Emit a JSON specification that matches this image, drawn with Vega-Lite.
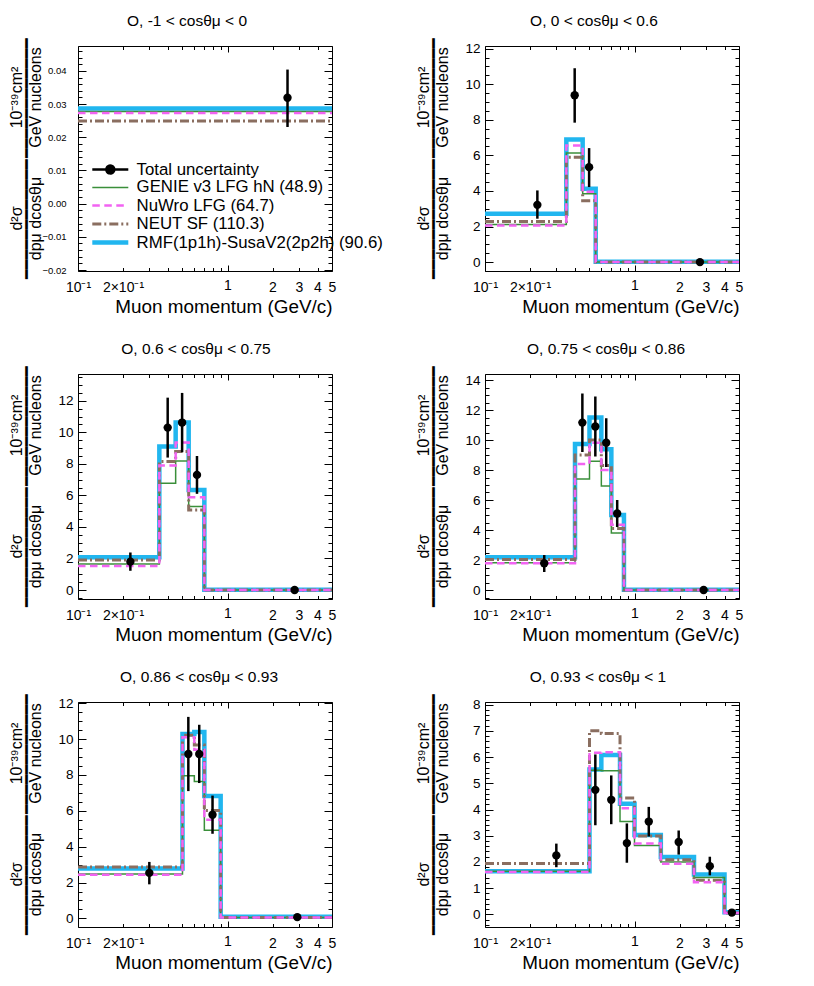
{
  "$schema": "https://vega.github.io/schema/vega-lite/v6.json",
  "padding": {"left": 8, "top": 12, "right": 0, "bottom": 0},
  "background": "white",
  "datasets": {
    "hist": [
      {"c":1,"m":"R","p":0.1,"v":0.0287},{"c":1,"m":"R","p":30,"v":0.0287},
      {"c":1,"m":"G","p":0.1,"v":0.0278},{"c":1,"m":"G","p":30,"v":0.0278},
      {"c":1,"m":"N","p":0.1,"v":0.0249},{"c":1,"m":"N","p":30,"v":0.0249},
      {"c":1,"m":"W","p":0.1,"v":0.0273},{"c":1,"m":"W","p":30,"v":0.0273},

      {"c":2,"m":"R","p":0.1,"v":2.72},{"c":2,"m":"R","p":0.35,"v":6.9},{"c":2,"m":"R","p":0.45,"v":4.12},{"c":2,"m":"R","p":0.55,"v":0.02},{"c":2,"m":"R","p":30,"v":0.02},
      {"c":2,"m":"G","p":0.1,"v":2.12},{"c":2,"m":"G","p":0.35,"v":6.13},{"c":2,"m":"G","p":0.45,"v":3.84},{"c":2,"m":"G","p":0.55,"v":0},{"c":2,"m":"G","p":30,"v":0},
      {"c":2,"m":"N","p":0.1,"v":2.29},{"c":2,"m":"N","p":0.35,"v":5.9},{"c":2,"m":"N","p":0.45,"v":3.45},{"c":2,"m":"N","p":0.55,"v":0},{"c":2,"m":"N","p":30,"v":0},
      {"c":2,"m":"W","p":0.1,"v":2.06},{"c":2,"m":"W","p":0.35,"v":6.56},{"c":2,"m":"W","p":0.45,"v":3.95},{"c":2,"m":"W","p":0.55,"v":0},{"c":2,"m":"W","p":30,"v":0},

      {"c":3,"m":"R","p":0.1,"v":2.07},{"c":3,"m":"R","p":0.35,"v":9.1},{"c":3,"m":"R","p":0.45,"v":10.62},{"c":3,"m":"R","p":0.55,"v":6.35},{"c":3,"m":"R","p":0.7,"v":0.02},{"c":3,"m":"R","p":30,"v":0.02},
      {"c":3,"m":"G","p":0.1,"v":1.65},{"c":3,"m":"G","p":0.35,"v":6.77},{"c":3,"m":"G","p":0.45,"v":8.19},{"c":3,"m":"G","p":0.55,"v":5.29},{"c":3,"m":"G","p":0.7,"v":0},{"c":3,"m":"G","p":30,"v":0},
      {"c":3,"m":"N","p":0.1,"v":1.9},{"c":3,"m":"N","p":0.35,"v":8.15},{"c":3,"m":"N","p":0.45,"v":8.78},{"c":3,"m":"N","p":0.55,"v":5.08},{"c":3,"m":"N","p":0.7,"v":0},{"c":3,"m":"N","p":30,"v":0},
      {"c":3,"m":"W","p":0.1,"v":1.52},{"c":3,"m":"W","p":0.35,"v":7.9},{"c":3,"m":"W","p":0.45,"v":9.35},{"c":3,"m":"W","p":0.55,"v":5.88},{"c":3,"m":"W","p":0.7,"v":0},{"c":3,"m":"W","p":30,"v":0},

      {"c":4,"m":"R","p":0.1,"v":2.18},{"c":4,"m":"R","p":0.4,"v":9.73},{"c":4,"m":"R","p":0.5,"v":11.5},{"c":4,"m":"R","p":0.6,"v":9.38},{"c":4,"m":"R","p":0.7,"v":5.0},{"c":4,"m":"R","p":0.85,"v":0.02},{"c":4,"m":"R","p":30,"v":0.02},
      {"c":4,"m":"G","p":0.1,"v":1.82},{"c":4,"m":"G","p":0.4,"v":7.4},{"c":4,"m":"G","p":0.5,"v":8.58},{"c":4,"m":"G","p":0.6,"v":6.93},{"c":4,"m":"G","p":0.7,"v":3.8},{"c":4,"m":"G","p":0.85,"v":0},{"c":4,"m":"G","p":30,"v":0},
      {"c":4,"m":"N","p":0.1,"v":2.04},{"c":4,"m":"N","p":0.4,"v":9.0},{"c":4,"m":"N","p":0.5,"v":10.0},{"c":4,"m":"N","p":0.6,"v":8.3},{"c":4,"m":"N","p":0.7,"v":4.1},{"c":4,"m":"N","p":0.85,"v":0},{"c":4,"m":"N","p":30,"v":0},
      {"c":4,"m":"W","p":0.1,"v":1.78},{"c":4,"m":"W","p":0.4,"v":8.4},{"c":4,"m":"W","p":0.5,"v":9.82},{"c":4,"m":"W","p":0.6,"v":8.0},{"c":4,"m":"W","p":0.7,"v":4.35},{"c":4,"m":"W","p":0.85,"v":0},{"c":4,"m":"W","p":30,"v":0},

      {"c":5,"m":"R","p":0.1,"v":2.78},{"c":5,"m":"R","p":0.5,"v":10.28},{"c":5,"m":"R","p":0.6,"v":10.4},{"c":5,"m":"R","p":0.7,"v":6.83},{"c":5,"m":"R","p":0.9,"v":0.09},{"c":5,"m":"R","p":30,"v":0.09},
      {"c":5,"m":"G","p":0.1,"v":2.48},{"c":5,"m":"G","p":0.5,"v":7.96},{"c":5,"m":"G","p":0.6,"v":7.63},{"c":5,"m":"G","p":0.7,"v":4.91},{"c":5,"m":"G","p":0.9,"v":0.05},{"c":5,"m":"G","p":30,"v":0.05},
      {"c":5,"m":"N","p":0.1,"v":2.87},{"c":5,"m":"N","p":0.5,"v":10.22},{"c":5,"m":"N","p":0.6,"v":9.67},{"c":5,"m":"N","p":0.7,"v":6.02},{"c":5,"m":"N","p":0.9,"v":0.05},{"c":5,"m":"N","p":30,"v":0.05},
      {"c":5,"m":"W","p":0.1,"v":2.44},{"c":5,"m":"W","p":0.5,"v":10.1},{"c":5,"m":"W","p":0.6,"v":9.4},{"c":5,"m":"W","p":0.7,"v":5.5},{"c":5,"m":"W","p":0.9,"v":0.05},{"c":5,"m":"W","p":30,"v":0.05},

      {"c":6,"m":"R","p":0.1,"v":1.65},{"c":6,"m":"R","p":0.5,"v":5.53},{"c":6,"m":"R","p":0.6,"v":6.08},{"c":6,"m":"R","p":0.8,"v":4.22},{"c":6,"m":"R","p":1.0,"v":3.03},{"c":6,"m":"R","p":1.5,"v":2.19},{"c":6,"m":"R","p":2.5,"v":1.52},{"c":6,"m":"R","p":4.0,"v":0.08},{"c":6,"m":"R","p":30,"v":0.08},
      {"c":6,"m":"G","p":0.1,"v":1.65},{"c":6,"m":"G","p":0.5,"v":5.5},{"c":6,"m":"G","p":0.6,"v":5.48},{"c":6,"m":"G","p":0.8,"v":3.54},{"c":6,"m":"G","p":1.0,"v":2.63},{"c":6,"m":"G","p":1.5,"v":2.0},{"c":6,"m":"G","p":2.5,"v":1.41},{"c":6,"m":"G","p":4.0,"v":0.05},{"c":6,"m":"G","p":30,"v":0.05},
      {"c":6,"m":"N","p":0.1,"v":1.94},{"c":6,"m":"N","p":0.5,"v":7.0},{"c":6,"m":"N","p":0.6,"v":6.9},{"c":6,"m":"N","p":0.8,"v":4.44},{"c":6,"m":"N","p":1.0,"v":2.99},{"c":6,"m":"N","p":1.5,"v":2.08},{"c":6,"m":"N","p":2.5,"v":1.3},{"c":6,"m":"N","p":4.0,"v":0.05},{"c":6,"m":"N","p":30,"v":0.05},
      {"c":6,"m":"W","p":0.1,"v":1.62},{"c":6,"m":"W","p":0.5,"v":6.16},{"c":6,"m":"W","p":0.6,"v":6.18},{"c":6,"m":"W","p":0.8,"v":4.05},{"c":6,"m":"W","p":1.0,"v":2.7},{"c":6,"m":"W","p":1.5,"v":1.93},{"c":6,"m":"W","p":2.5,"v":1.23},{"c":6,"m":"W","p":4.0,"v":0.05},{"c":6,"m":"W","p":30,"v":0.05}
    ],
    "pts": [
      {"c":1,"p":2.52,"v":0.0319,"lo":0.0231,"hi":0.0404},
      {"c":2,"p":0.224,"v":3.22,"lo":2.44,"hi":4.03},
      {"c":2,"p":0.398,"v":9.38,"lo":7.84,"hi":10.9},
      {"c":2,"p":0.497,"v":5.34,"lo":4.22,"hi":6.41},
      {"c":2,"p":2.74,"v":0.0,"lo":0.0,"hi":0.0},
      {"c":3,"p":0.224,"v":1.8,"lo":1.22,"hi":2.38},
      {"c":3,"p":0.398,"v":10.3,"lo":8.4,"hi":12.2},
      {"c":3,"p":0.497,"v":10.62,"lo":8.74,"hi":12.5},
      {"c":3,"p":0.625,"v":7.3,"lo":6.1,"hi":8.5},
      {"c":3,"p":2.81,"v":0.0,"lo":0.0,"hi":0.0},
      {"c":4,"p":0.249,"v":1.78,"lo":1.2,"hi":2.33},
      {"c":4,"p":0.448,"v":11.16,"lo":9.2,"hi":13.1},
      {"c":4,"p":0.547,"v":10.9,"lo":8.9,"hi":12.9},
      {"c":4,"p":0.647,"v":9.82,"lo":8.2,"hi":11.45},
      {"c":4,"p":0.766,"v":5.1,"lo":4.2,"hi":6.0},
      {"c":4,"p":2.9,"v":0.0,"lo":0.0,"hi":0.0},
      {"c":5,"p":0.3,"v":2.54,"lo":1.9,"hi":3.15},
      {"c":5,"p":0.547,"v":9.17,"lo":7.1,"hi":11.24},
      {"c":5,"p":0.647,"v":9.17,"lo":7.55,"hi":10.8},
      {"c":5,"p":0.794,"v":5.78,"lo":4.72,"hi":6.85},
      {"c":5,"p":2.93,"v":0.07,"lo":0.03,"hi":0.1},
      {"c":6,"p":0.3,"v":2.25,"lo":1.8,"hi":2.7},
      {"c":6,"p":0.547,"v":4.75,"lo":3.4,"hi":6.1},
      {"c":6,"p":0.699,"v":4.37,"lo":3.44,"hi":5.3},
      {"c":6,"p":0.889,"v":2.72,"lo":1.97,"hi":3.47},
      {"c":6,"p":1.246,"v":3.54,"lo":2.97,"hi":4.1},
      {"c":6,"p":1.975,"v":2.76,"lo":2.28,"hi":3.2},
      {"c":6,"p":3.19,"v":1.84,"lo":1.49,"hi":2.2},
      {"c":6,"p":4.48,"v":0.07,"lo":0.03,"hi":0.1}
    ]
  },
  "columns": 2,
  "spacing": {"row": 103, "column": 153},
  "bounds": "flush",
  "concat": [
    {
      "width": 254, "height": 225,
      "title": {"text": "O, -1 < cosθμ < 0", "dx": -18},
      "layer": [
        {
          "data": {"name": "hist"},
          "transform": [{"filter": "datum.c == 1"}],
          "mark": {"type": "line", "interpolate": "step-after", "clip": true},
          "encoding": {
            "x": {"field": "p", "type": "quantitative", "scale": {"type": "log", "domain": [0.1, 5], "nice": false},
              "axis": {"values": [0.1,0.2,0.3,0.4,0.5,0.6,0.7,0.8,0.9,1,2,3,4,5], "labelExpr": "datum.value == 0.1 ? '10⁻¹' : datum.value == 0.2 ? '2×10⁻¹' : datum.value >= 1 ? format(datum.value, 'd') : ''", "tickSize": {"condition": {"test": "datum.value == 1", "value": -6}, "value": -3.5}, "labelFontSize": 14, "labelPadding": 13, "title": "Muon momentum (GeV/c)", "titleFontSize": 18.9, "titleAnchor": "end", "titlePadding": 3}},
            "y": {"field": "v", "type": "quantitative", "scale": {"domain": [-0.0203, 0.0475], "nice": false, "zero": false},
              "axis": {"values": [-0.02,-0.018,-0.016,-0.014,-0.012,-0.01,-0.008,-0.006,-0.004,-0.002,0,0.002,0.004,0.006,0.008,0.01,0.012,0.014,0.016,0.018,0.02,0.022,0.024,0.026,0.028,0.03,0.032,0.034,0.036,0.038,0.04,0.042,0.044,0.046],
                "labelExpr": "abs(round(datum.value*1000)) % 10 == 0 ? format(datum.value, '.2f') : ''",
                "tickSize": {"condition": {"test": "abs(round(datum.value*1000)) % 10 == 0", "value": -8}, "value": -4},
                "labelFontSize": 9.5, "labelPadding": 20,
                "title": ["\u00a0\u00a0\u00a0\u00a0\u00a0\u00a0\u00a0\u00a0\u00a0\u00a0\u00a0\u00a0\u00a0\u00a0\u00a0\u00a0\u00a0\u00a0\u00a0\u00a0d²σ", "━━━━━━━━━━━━", "dpμ dcosθμ"],
                "titleX": -61.5, "titleY": 172, "titleAngle": 270, "titleAlign": "center", "titleBaseline": "middle", "titleFontSize": 16, "titleLineHeight": 9.5}},
            "color": {"field": "m", "type": "nominal",
              "scale": {"domain": ["T","G","W","N","R"], "range": ["black","#3a8f3a","#f263f2","#8a6e60","#21b6ef"]},
              "legend": {"orient": "none", "legendX": 22.8, "legendY": 115, "direction": "vertical", "title": null, "padding": 0, "symbolType": "stroke", "symbolSize": 207.4, "labelFontSize": 16.8, "labelOffset": 16.8, "labelLimit": 400, "rowPadding": 0,
                "labelExpr": "datum.label == 'T' ? 'Total uncertainty' : datum.label == 'G' ? 'GENIE v3 LFG hN (48.9)' : datum.label == 'W' ? 'NuWro LFG (64.7)' : datum.label == 'N' ? 'NEUT SF (110.3)' : 'RMF(1p1h)-SusaV2(2p2h) (90.6)'",
                "encode": {"symbols": {"update": {
                  "shape": {"signal": "datum.value == 'T' ? 'M-2.5,0L2.5,0M-0.55,0A0.55,0.55,0,1,1,0.55,0A0.55,0.55,0,1,1,-0.55,0Z' : 'M-2.5,0L2.5,0'"},
                  "fill": {"signal": "datum.value == 'T' ? 'black' : 'transparent'"}}}}}},
            "strokeDash": {"field": "m", "type": "nominal", "scale": {"domain": ["T","G","W","N","R"], "range": [[1,0],[1,0],[7.5,4.5],[9,3,2,3],[1,0]]}},
            "strokeWidth": {"field": "m", "type": "nominal", "scale": {"type": "ordinal", "domain": ["T","G","W","N","R"], "range": [2.5,1.5,2.5,3,4.5]}}
          }
        },
        {
          "data": {"name": "pts"},
          "transform": [{"filter": "datum.c == 1"}],
          "mark": {"type": "rule", "strokeWidth": 2.5, "color": "black"},
          "encoding": {
            "x": {"field": "p", "type": "quantitative", "scale": {"type": "log", "domain": [0.1, 5], "nice": false}, "axis": null},
            "y": {"field": "lo", "type": "quantitative", "scale": {"domain": [-0.0203, 0.0475], "nice": false, "zero": false}, "axis": null},
            "y2": {"field": "hi"}
          }
        },
        {
          "data": {"name": "pts"},
          "transform": [{"filter": "datum.c == 1"}],
          "mark": {"type": "point", "filled": true, "size": 70, "color": "black", "opacity": 1},
          "encoding": {
            "x": {"field": "p", "type": "quantitative", "scale": {"type": "log", "domain": [0.1, 5], "nice": false},
              "axis": {"orient": "top", "values": [0.1,0.2,0.3,0.4,0.5,0.6,0.7,0.8,0.9,1,2,3,4,5], "labels": false, "title": null, "tickSize": {"condition": {"test": "datum.value == 1", "value": -6}, "value": -3.5}}},
            "y": {"field": "v", "type": "quantitative", "scale": {"domain": [-0.0203, 0.0475], "nice": false, "zero": false},
              "axis": {"orient": "right", "values": [-0.02,-0.018,-0.016,-0.014,-0.012,-0.01,-0.008,-0.006,-0.004,-0.002,0,0.002,0.004,0.006,0.008,0.01,0.012,0.014,0.016,0.018,0.02,0.022,0.024,0.026,0.028,0.03,0.032,0.034,0.036,0.038,0.04,0.042,0.044,0.046], "labels": false,
                "tickSize": {"condition": {"test": "abs(round(datum.value*1000)) % 10 == 0", "value": -8}, "value": -4},
                "title": ["\u00a0\u00a0\u00a0\u00a0\u00a0\u00a0\u00a0\u00a0\u00a0\u00a0\u00a0\u00a0\u00a0\u00a0\u00a010⁻³⁹cm²", "━━━━━━━━━━━━", "GeV nucleons"],
                "titleX": -315.5, "titleY": 51, "titleAngle": 270, "titleAlign": "center", "titleBaseline": "middle", "titleFontSize": 16, "titleLineHeight": 9.5}}
          }
        }
      ],
      "resolve": {"axis": {"x": "independent", "y": "independent"}}
    },
    {
      "width": 254, "height": 225,
      "title": {"text": "O, 0 < cosθμ < 0.6", "dx": -18},
      "layer": [
        {
          "data": {"name": "hist"},
          "transform": [{"filter": "datum.c == 2"}],
          "mark": {"type": "line", "interpolate": "step-after", "clip": true},
          "encoding": {
            "x": {"field": "p", "type": "quantitative", "scale": {"type": "log", "domain": [0.1, 5], "nice": false},
              "axis": {"values": [0.1,0.2,0.3,0.4,0.5,0.6,0.7,0.8,0.9,1,2,3,4,5], "labelExpr": "datum.value == 0.1 ? '10⁻¹' : datum.value == 0.2 ? '2×10⁻¹' : datum.value >= 1 ? format(datum.value, 'd') : ''", "tickSize": {"condition": {"test": "datum.value == 1", "value": -6}, "value": -3.5}, "labelFontSize": 14, "labelPadding": 13, "title": "Muon momentum (GeV/c)", "titleFontSize": 18.9, "titleAnchor": "end", "titlePadding": 3}},
            "y": {"field": "v", "type": "quantitative", "scale": {"domain": [-0.5, 12.15], "nice": false, "zero": false},
              "axis": {"values": [-0.5,0,0.5,1,1.5,2,2.5,3,3.5,4,4.5,5,5.5,6,6.5,7,7.5,8,8.5,9,9.5,10,10.5,11,11.5,12],
                "labelExpr": "datum.value % 2 == 0 ? format(datum.value, 'd') : ''",
                "tickSize": {"condition": {"test": "datum.value % 2 == 0", "value": -8}, "value": -4},
                "labelFontSize": 13.5, "labelPadding": 13,
                "title": ["\u00a0\u00a0\u00a0\u00a0\u00a0\u00a0\u00a0\u00a0\u00a0\u00a0\u00a0\u00a0\u00a0\u00a0\u00a0\u00a0\u00a0\u00a0\u00a0\u00a0d²σ", "━━━━━━━━━━━━", "dpμ dcosθμ"],
                "titleX": -61.5, "titleY": 172, "titleAngle": 270, "titleAlign": "center", "titleBaseline": "middle", "titleFontSize": 16, "titleLineHeight": 9.5}},
            "color": {"field": "m", "type": "nominal", "scale": {"domain": ["T","G","W","N","R"], "range": ["black","#3a8f3a","#f263f2","#8a6e60","#21b6ef"]}, "legend": null},
            "strokeDash": {"field": "m", "type": "nominal", "scale": {"domain": ["T","G","W","N","R"], "range": [[1,0],[1,0],[7.5,4.5],[9,3,2,3],[1,0]]}, "legend": null},
            "strokeWidth": {"field": "m", "type": "nominal", "scale": {"type": "ordinal", "domain": ["T","G","W","N","R"], "range": [2.5,1.5,2.5,3,4.5]}, "legend": null}
          }
        },
        {
          "data": {"name": "pts"},
          "transform": [{"filter": "datum.c == 2"}],
          "mark": {"type": "rule", "strokeWidth": 2.5, "color": "black"},
          "encoding": {
            "x": {"field": "p", "type": "quantitative", "scale": {"type": "log", "domain": [0.1, 5], "nice": false}, "axis": null},
            "y": {"field": "lo", "type": "quantitative", "scale": {"domain": [-0.5, 12.15], "nice": false, "zero": false}, "axis": null},
            "y2": {"field": "hi"}
          }
        },
        {
          "data": {"name": "pts"},
          "transform": [{"filter": "datum.c == 2"}],
          "mark": {"type": "point", "filled": true, "size": 70, "color": "black", "opacity": 1},
          "encoding": {
            "x": {"field": "p", "type": "quantitative", "scale": {"type": "log", "domain": [0.1, 5], "nice": false},
              "axis": {"orient": "top", "values": [0.1,0.2,0.3,0.4,0.5,0.6,0.7,0.8,0.9,1,2,3,4,5], "labels": false, "title": null, "tickSize": {"condition": {"test": "datum.value == 1", "value": -6}, "value": -3.5}}},
            "y": {"field": "v", "type": "quantitative", "scale": {"domain": [-0.5, 12.15], "nice": false, "zero": false},
              "axis": {"orient": "right", "values": [-0.5,0,0.5,1,1.5,2,2.5,3,3.5,4,4.5,5,5.5,6,6.5,7,7.5,8,8.5,9,9.5,10,10.5,11,11.5,12], "labels": false,
                "tickSize": {"condition": {"test": "datum.value % 2 == 0", "value": -8}, "value": -4},
                "title": ["\u00a0\u00a0\u00a0\u00a0\u00a0\u00a0\u00a0\u00a0\u00a0\u00a0\u00a0\u00a0\u00a0\u00a0\u00a010⁻³⁹cm²", "━━━━━━━━━━━━", "GeV nucleons"],
                "titleX": -315.5, "titleY": 51, "titleAngle": 270, "titleAlign": "center", "titleBaseline": "middle", "titleFontSize": 16, "titleLineHeight": 9.5}}
          }
        }
      ],
      "resolve": {"axis": {"x": "independent", "y": "independent"}}
    },
    {
      "width": 254, "height": 225,
      "title": {"text": "O, 0.6 < cosθμ < 0.75", "dx": -9},
      "layer": [
        {
          "data": {"name": "hist"},
          "transform": [{"filter": "datum.c == 3"}],
          "mark": {"type": "line", "interpolate": "step-after", "clip": true},
          "encoding": {
            "x": {"field": "p", "type": "quantitative", "scale": {"type": "log", "domain": [0.1, 5], "nice": false},
              "axis": {"values": [0.1,0.2,0.3,0.4,0.5,0.6,0.7,0.8,0.9,1,2,3,4,5], "labelExpr": "datum.value == 0.1 ? '10⁻¹' : datum.value == 0.2 ? '2×10⁻¹' : datum.value >= 1 ? format(datum.value, 'd') : ''", "tickSize": {"condition": {"test": "datum.value == 1", "value": -6}, "value": -3.5}, "labelFontSize": 14, "labelPadding": 13, "title": "Muon momentum (GeV/c)", "titleFontSize": 18.9, "titleAnchor": "end", "titlePadding": 3}},
            "y": {"field": "v", "type": "quantitative", "scale": {"domain": [-0.57, 13.7], "nice": false, "zero": false},
              "axis": {"values": [-0.5,0,0.5,1,1.5,2,2.5,3,3.5,4,4.5,5,5.5,6,6.5,7,7.5,8,8.5,9,9.5,10,10.5,11,11.5,12,12.5,13,13.5],
                "labelExpr": "datum.value % 2 == 0 ? format(datum.value, 'd') : ''",
                "tickSize": {"condition": {"test": "datum.value % 2 == 0", "value": -8}, "value": -4},
                "labelFontSize": 13.5, "labelPadding": 13,
                "title": ["\u00a0\u00a0\u00a0\u00a0\u00a0\u00a0\u00a0\u00a0\u00a0\u00a0\u00a0\u00a0\u00a0\u00a0\u00a0\u00a0\u00a0\u00a0\u00a0\u00a0d²σ", "━━━━━━━━━━━━", "dpμ dcosθμ"],
                "titleX": -61.5, "titleY": 172, "titleAngle": 270, "titleAlign": "center", "titleBaseline": "middle", "titleFontSize": 16, "titleLineHeight": 9.5}},
            "color": {"field": "m", "type": "nominal", "scale": {"domain": ["T","G","W","N","R"], "range": ["black","#3a8f3a","#f263f2","#8a6e60","#21b6ef"]}, "legend": null},
            "strokeDash": {"field": "m", "type": "nominal", "scale": {"domain": ["T","G","W","N","R"], "range": [[1,0],[1,0],[7.5,4.5],[9,3,2,3],[1,0]]}, "legend": null},
            "strokeWidth": {"field": "m", "type": "nominal", "scale": {"type": "ordinal", "domain": ["T","G","W","N","R"], "range": [2.5,1.5,2.5,3,4.5]}, "legend": null}
          }
        },
        {
          "data": {"name": "pts"},
          "transform": [{"filter": "datum.c == 3"}],
          "mark": {"type": "rule", "strokeWidth": 2.5, "color": "black"},
          "encoding": {
            "x": {"field": "p", "type": "quantitative", "scale": {"type": "log", "domain": [0.1, 5], "nice": false}, "axis": null},
            "y": {"field": "lo", "type": "quantitative", "scale": {"domain": [-0.57, 13.7], "nice": false, "zero": false}, "axis": null},
            "y2": {"field": "hi"}
          }
        },
        {
          "data": {"name": "pts"},
          "transform": [{"filter": "datum.c == 3"}],
          "mark": {"type": "point", "filled": true, "size": 70, "color": "black", "opacity": 1},
          "encoding": {
            "x": {"field": "p", "type": "quantitative", "scale": {"type": "log", "domain": [0.1, 5], "nice": false},
              "axis": {"orient": "top", "values": [0.1,0.2,0.3,0.4,0.5,0.6,0.7,0.8,0.9,1,2,3,4,5], "labels": false, "title": null, "tickSize": {"condition": {"test": "datum.value == 1", "value": -6}, "value": -3.5}}},
            "y": {"field": "v", "type": "quantitative", "scale": {"domain": [-0.57, 13.7], "nice": false, "zero": false},
              "axis": {"orient": "right", "values": [-0.5,0,0.5,1,1.5,2,2.5,3,3.5,4,4.5,5,5.5,6,6.5,7,7.5,8,8.5,9,9.5,10,10.5,11,11.5,12,12.5,13,13.5], "labels": false,
                "tickSize": {"condition": {"test": "datum.value % 2 == 0", "value": -8}, "value": -4},
                "title": ["\u00a0\u00a0\u00a0\u00a0\u00a0\u00a0\u00a0\u00a0\u00a0\u00a0\u00a0\u00a0\u00a0\u00a0\u00a010⁻³⁹cm²", "━━━━━━━━━━━━", "GeV nucleons"],
                "titleX": -315.5, "titleY": 51, "titleAngle": 270, "titleAlign": "center", "titleBaseline": "middle", "titleFontSize": 16, "titleLineHeight": 9.5}}
          }
        }
      ],
      "resolve": {"axis": {"x": "independent", "y": "independent"}}
    },
    {
      "width": 254, "height": 225,
      "title": {"text": "O, 0.75 < cosθμ < 0.86", "dx": -6},
      "layer": [
        {
          "data": {"name": "hist"},
          "transform": [{"filter": "datum.c == 4"}],
          "mark": {"type": "line", "interpolate": "step-after", "clip": true},
          "encoding": {
            "x": {"field": "p", "type": "quantitative", "scale": {"type": "log", "domain": [0.1, 5], "nice": false},
              "axis": {"values": [0.1,0.2,0.3,0.4,0.5,0.6,0.7,0.8,0.9,1,2,3,4,5], "labelExpr": "datum.value == 0.1 ? '10⁻¹' : datum.value == 0.2 ? '2×10⁻¹' : datum.value >= 1 ? format(datum.value, 'd') : ''", "tickSize": {"condition": {"test": "datum.value == 1", "value": -6}, "value": -3.5}, "labelFontSize": 14, "labelPadding": 13, "title": "Muon momentum (GeV/c)", "titleFontSize": 18.9, "titleAnchor": "end", "titlePadding": 3}},
            "y": {"field": "v", "type": "quantitative", "scale": {"domain": [-0.6, 14.4], "nice": false, "zero": false},
              "axis": {"values": [-0.5,0,0.5,1,1.5,2,2.5,3,3.5,4,4.5,5,5.5,6,6.5,7,7.5,8,8.5,9,9.5,10,10.5,11,11.5,12,12.5,13,13.5,14],
                "labelExpr": "datum.value % 2 == 0 ? format(datum.value, 'd') : ''",
                "tickSize": {"condition": {"test": "datum.value % 2 == 0", "value": -8}, "value": -4},
                "labelFontSize": 13.5, "labelPadding": 13,
                "title": ["\u00a0\u00a0\u00a0\u00a0\u00a0\u00a0\u00a0\u00a0\u00a0\u00a0\u00a0\u00a0\u00a0\u00a0\u00a0\u00a0\u00a0\u00a0\u00a0\u00a0d²σ", "━━━━━━━━━━━━", "dpμ dcosθμ"],
                "titleX": -61.5, "titleY": 172, "titleAngle": 270, "titleAlign": "center", "titleBaseline": "middle", "titleFontSize": 16, "titleLineHeight": 9.5}},
            "color": {"field": "m", "type": "nominal", "scale": {"domain": ["T","G","W","N","R"], "range": ["black","#3a8f3a","#f263f2","#8a6e60","#21b6ef"]}, "legend": null},
            "strokeDash": {"field": "m", "type": "nominal", "scale": {"domain": ["T","G","W","N","R"], "range": [[1,0],[1,0],[7.5,4.5],[9,3,2,3],[1,0]]}, "legend": null},
            "strokeWidth": {"field": "m", "type": "nominal", "scale": {"type": "ordinal", "domain": ["T","G","W","N","R"], "range": [2.5,1.5,2.5,3,4.5]}, "legend": null}
          }
        },
        {
          "data": {"name": "pts"},
          "transform": [{"filter": "datum.c == 4"}],
          "mark": {"type": "rule", "strokeWidth": 2.5, "color": "black"},
          "encoding": {
            "x": {"field": "p", "type": "quantitative", "scale": {"type": "log", "domain": [0.1, 5], "nice": false}, "axis": null},
            "y": {"field": "lo", "type": "quantitative", "scale": {"domain": [-0.6, 14.4], "nice": false, "zero": false}, "axis": null},
            "y2": {"field": "hi"}
          }
        },
        {
          "data": {"name": "pts"},
          "transform": [{"filter": "datum.c == 4"}],
          "mark": {"type": "point", "filled": true, "size": 70, "color": "black", "opacity": 1},
          "encoding": {
            "x": {"field": "p", "type": "quantitative", "scale": {"type": "log", "domain": [0.1, 5], "nice": false},
              "axis": {"orient": "top", "values": [0.1,0.2,0.3,0.4,0.5,0.6,0.7,0.8,0.9,1,2,3,4,5], "labels": false, "title": null, "tickSize": {"condition": {"test": "datum.value == 1", "value": -6}, "value": -3.5}}},
            "y": {"field": "v", "type": "quantitative", "scale": {"domain": [-0.6, 14.4], "nice": false, "zero": false},
              "axis": {"orient": "right", "values": [-0.5,0,0.5,1,1.5,2,2.5,3,3.5,4,4.5,5,5.5,6,6.5,7,7.5,8,8.5,9,9.5,10,10.5,11,11.5,12,12.5,13,13.5,14], "labels": false,
                "tickSize": {"condition": {"test": "datum.value % 2 == 0", "value": -8}, "value": -4},
                "title": ["\u00a0\u00a0\u00a0\u00a0\u00a0\u00a0\u00a0\u00a0\u00a0\u00a0\u00a0\u00a0\u00a0\u00a0\u00a010⁻³⁹cm²", "━━━━━━━━━━━━", "GeV nucleons"],
                "titleX": -315.5, "titleY": 51, "titleAngle": 270, "titleAlign": "center", "titleBaseline": "middle", "titleFontSize": 16, "titleLineHeight": 9.5}}
          }
        }
      ],
      "resolve": {"axis": {"x": "independent", "y": "independent"}}
    },
    {
      "width": 254, "height": 225,
      "title": {"text": "O, 0.86 < cosθμ < 0.93", "dx": -6},
      "layer": [
        {
          "data": {"name": "hist"},
          "transform": [{"filter": "datum.c == 5"}],
          "mark": {"type": "line", "interpolate": "step-after", "clip": true},
          "encoding": {
            "x": {"field": "p", "type": "quantitative", "scale": {"type": "log", "domain": [0.1, 5], "nice": false},
              "axis": {"values": [0.1,0.2,0.3,0.4,0.5,0.6,0.7,0.8,0.9,1,2,3,4,5], "labelExpr": "datum.value == 0.1 ? '10⁻¹' : datum.value == 0.2 ? '2×10⁻¹' : datum.value >= 1 ? format(datum.value, 'd') : ''", "tickSize": {"condition": {"test": "datum.value == 1", "value": -6}, "value": -3.5}, "labelFontSize": 14, "labelPadding": 13, "title": "Muon momentum (GeV/c)", "titleFontSize": 18.9, "titleAnchor": "end", "titlePadding": 3}},
            "y": {"field": "v", "type": "quantitative", "scale": {"domain": [-0.48, 12.07], "nice": false, "zero": false},
              "axis": {"values": [-0.5,0,0.5,1,1.5,2,2.5,3,3.5,4,4.5,5,5.5,6,6.5,7,7.5,8,8.5,9,9.5,10,10.5,11,11.5,12],
                "labelExpr": "datum.value % 2 == 0 ? format(datum.value, 'd') : ''",
                "tickSize": {"condition": {"test": "datum.value % 2 == 0", "value": -8}, "value": -4},
                "labelFontSize": 13.5, "labelPadding": 13,
                "title": ["\u00a0\u00a0\u00a0\u00a0\u00a0\u00a0\u00a0\u00a0\u00a0\u00a0\u00a0\u00a0\u00a0\u00a0\u00a0\u00a0\u00a0\u00a0\u00a0\u00a0d²σ", "━━━━━━━━━━━━", "dpμ dcosθμ"],
                "titleX": -61.5, "titleY": 172, "titleAngle": 270, "titleAlign": "center", "titleBaseline": "middle", "titleFontSize": 16, "titleLineHeight": 9.5}},
            "color": {"field": "m", "type": "nominal", "scale": {"domain": ["T","G","W","N","R"], "range": ["black","#3a8f3a","#f263f2","#8a6e60","#21b6ef"]}, "legend": null},
            "strokeDash": {"field": "m", "type": "nominal", "scale": {"domain": ["T","G","W","N","R"], "range": [[1,0],[1,0],[7.5,4.5],[9,3,2,3],[1,0]]}, "legend": null},
            "strokeWidth": {"field": "m", "type": "nominal", "scale": {"type": "ordinal", "domain": ["T","G","W","N","R"], "range": [2.5,1.5,2.5,3,4.5]}, "legend": null}
          }
        },
        {
          "data": {"name": "pts"},
          "transform": [{"filter": "datum.c == 5"}],
          "mark": {"type": "rule", "strokeWidth": 2.5, "color": "black"},
          "encoding": {
            "x": {"field": "p", "type": "quantitative", "scale": {"type": "log", "domain": [0.1, 5], "nice": false}, "axis": null},
            "y": {"field": "lo", "type": "quantitative", "scale": {"domain": [-0.48, 12.07], "nice": false, "zero": false}, "axis": null},
            "y2": {"field": "hi"}
          }
        },
        {
          "data": {"name": "pts"},
          "transform": [{"filter": "datum.c == 5"}],
          "mark": {"type": "point", "filled": true, "size": 70, "color": "black", "opacity": 1},
          "encoding": {
            "x": {"field": "p", "type": "quantitative", "scale": {"type": "log", "domain": [0.1, 5], "nice": false},
              "axis": {"orient": "top", "values": [0.1,0.2,0.3,0.4,0.5,0.6,0.7,0.8,0.9,1,2,3,4,5], "labels": false, "title": null, "tickSize": {"condition": {"test": "datum.value == 1", "value": -6}, "value": -3.5}}},
            "y": {"field": "v", "type": "quantitative", "scale": {"domain": [-0.48, 12.07], "nice": false, "zero": false},
              "axis": {"orient": "right", "values": [-0.5,0,0.5,1,1.5,2,2.5,3,3.5,4,4.5,5,5.5,6,6.5,7,7.5,8,8.5,9,9.5,10,10.5,11,11.5,12], "labels": false,
                "tickSize": {"condition": {"test": "datum.value % 2 == 0", "value": -8}, "value": -4},
                "title": ["\u00a0\u00a0\u00a0\u00a0\u00a0\u00a0\u00a0\u00a0\u00a0\u00a0\u00a0\u00a0\u00a0\u00a0\u00a010⁻³⁹cm²", "━━━━━━━━━━━━", "GeV nucleons"],
                "titleX": -315.5, "titleY": 51, "titleAngle": 270, "titleAlign": "center", "titleBaseline": "middle", "titleFontSize": 16, "titleLineHeight": 9.5}}
          }
        }
      ],
      "resolve": {"axis": {"x": "independent", "y": "independent"}}
    },
    {
      "width": 254, "height": 225,
      "title": {"text": "O, 0.93 < cosθμ < 1", "dx": -14},
      "layer": [
        {
          "data": {"name": "hist"},
          "transform": [{"filter": "datum.c == 6"}],
          "mark": {"type": "line", "interpolate": "step-after", "clip": true},
          "encoding": {
            "x": {"field": "p", "type": "quantitative", "scale": {"type": "log", "domain": [0.1, 5], "nice": false},
              "axis": {"values": [0.1,0.2,0.3,0.4,0.5,0.6,0.7,0.8,0.9,1,2,3,4,5], "labelExpr": "datum.value == 0.1 ? '10⁻¹' : datum.value == 0.2 ? '2×10⁻¹' : datum.value >= 1 ? format(datum.value, 'd') : ''", "tickSize": {"condition": {"test": "datum.value == 1", "value": -6}, "value": -3.5}, "labelFontSize": 14, "labelPadding": 13, "title": "Muon momentum (GeV/c)", "titleFontSize": 18.9, "titleAnchor": "end", "titlePadding": 3}},
            "y": {"field": "v", "type": "quantitative", "scale": {"domain": [-0.48, 8.1], "nice": false, "zero": false},
              "axis": {"values": [-0.4,-0.2,0,0.2,0.4,0.6,0.8,1,1.2,1.4,1.6,1.8,2,2.2,2.4,2.6,2.8,3,3.2,3.4,3.6,3.8,4,4.2,4.4,4.6,4.8,5,5.2,5.4,5.6,5.8,6,6.2,6.4,6.6,6.8,7,7.2,7.4,7.6,7.8,8],
                "labelExpr": "abs(datum.value - round(datum.value)) < 0.01 ? format(datum.value, 'd') : ''",
                "tickSize": {"condition": {"test": "abs(datum.value - round(datum.value)) < 0.01", "value": -8}, "value": -4},
                "labelFontSize": 13.5, "labelPadding": 13,
                "title": ["\u00a0\u00a0\u00a0\u00a0\u00a0\u00a0\u00a0\u00a0\u00a0\u00a0\u00a0\u00a0\u00a0\u00a0\u00a0\u00a0\u00a0\u00a0\u00a0\u00a0d²σ", "━━━━━━━━━━━━", "dpμ dcosθμ"],
                "titleX": -61.5, "titleY": 172, "titleAngle": 270, "titleAlign": "center", "titleBaseline": "middle", "titleFontSize": 16, "titleLineHeight": 9.5}},
            "color": {"field": "m", "type": "nominal", "scale": {"domain": ["T","G","W","N","R"], "range": ["black","#3a8f3a","#f263f2","#8a6e60","#21b6ef"]}, "legend": null},
            "strokeDash": {"field": "m", "type": "nominal", "scale": {"domain": ["T","G","W","N","R"], "range": [[1,0],[1,0],[7.5,4.5],[9,3,2,3],[1,0]]}, "legend": null},
            "strokeWidth": {"field": "m", "type": "nominal", "scale": {"type": "ordinal", "domain": ["T","G","W","N","R"], "range": [2.5,1.5,2.5,3,4.5]}, "legend": null}
          }
        },
        {
          "data": {"name": "pts"},
          "transform": [{"filter": "datum.c == 6"}],
          "mark": {"type": "rule", "strokeWidth": 2.5, "color": "black"},
          "encoding": {
            "x": {"field": "p", "type": "quantitative", "scale": {"type": "log", "domain": [0.1, 5], "nice": false}, "axis": null},
            "y": {"field": "lo", "type": "quantitative", "scale": {"domain": [-0.48, 8.1], "nice": false, "zero": false}, "axis": null},
            "y2": {"field": "hi"}
          }
        },
        {
          "data": {"name": "pts"},
          "transform": [{"filter": "datum.c == 6"}],
          "mark": {"type": "point", "filled": true, "size": 70, "color": "black", "opacity": 1},
          "encoding": {
            "x": {"field": "p", "type": "quantitative", "scale": {"type": "log", "domain": [0.1, 5], "nice": false},
              "axis": {"orient": "top", "values": [0.1,0.2,0.3,0.4,0.5,0.6,0.7,0.8,0.9,1,2,3,4,5], "labels": false, "title": null, "tickSize": {"condition": {"test": "datum.value == 1", "value": -6}, "value": -3.5}}},
            "y": {"field": "v", "type": "quantitative", "scale": {"domain": [-0.48, 8.1], "nice": false, "zero": false},
              "axis": {"orient": "right", "values": [-0.4,-0.2,0,0.2,0.4,0.6,0.8,1,1.2,1.4,1.6,1.8,2,2.2,2.4,2.6,2.8,3,3.2,3.4,3.6,3.8,4,4.2,4.4,4.6,4.8,5,5.2,5.4,5.6,5.8,6,6.2,6.4,6.6,6.8,7,7.2,7.4,7.6,7.8,8], "labels": false,
                "tickSize": {"condition": {"test": "abs(datum.value - round(datum.value)) < 0.01", "value": -8}, "value": -4},
                "title": ["\u00a0\u00a0\u00a0\u00a0\u00a0\u00a0\u00a0\u00a0\u00a0\u00a0\u00a0\u00a0\u00a0\u00a0\u00a010⁻³⁹cm²", "━━━━━━━━━━━━", "GeV nucleons"],
                "titleX": -315.5, "titleY": 51, "titleAngle": 270, "titleAlign": "center", "titleBaseline": "middle", "titleFontSize": 16, "titleLineHeight": 9.5}}
          }
        }
      ],
      "resolve": {"axis": {"x": "independent", "y": "independent"}}
    }
  ],
  "resolve": {"scale": {"color": "independent", "strokeDash": "independent", "strokeWidth": "independent"}},
  "config": {
    "font": "Liberation Sans",
    "view": {"stroke": "black", "strokeWidth": 1},
    "axis": {"domain": false, "grid": false, "tickColor": "black", "tickWidth": 1, "labelColor": "black", "titleColor": "black", "labelFont": "Liberation Sans", "titleFont": "Liberation Sans", "titleFontWeight": "normal", "labelFlush": false, "labelOverlap": false},
    "title": {"font": "Liberation Sans", "fontSize": 15.5, "fontWeight": "normal", "color": "black", "offset": 8, "anchor": "middle"},
    "legend": {"labelFont": "Liberation Sans", "labelColor": "black"}
  }
}
